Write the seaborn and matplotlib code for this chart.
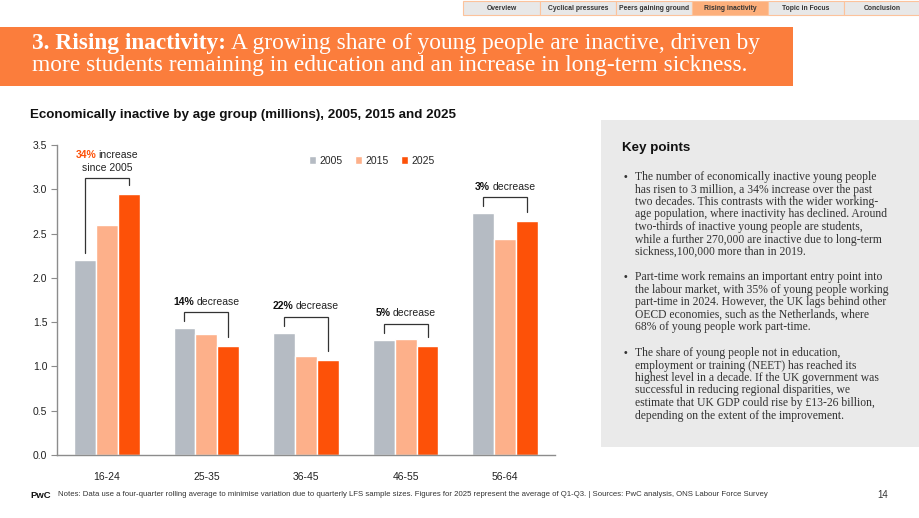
import matplotlib.pyplot as plt
import pandas as pd
import seaborn as sns
from matplotlib.patches import Rectangle


# data (millions)
age_groups = ['16-24', '25-35', '36-45', '46-55', '56-64']
years = ['2005', '2015', '2025']
inactive_2005 = [2.20, 1.43, 1.38, 1.30, 2.73]
inactive_2015 = [2.60, 1.37, 1.12, 1.31, 2.44]
inactive_2025 = [2.95, 1.23, 1.07, 1.23, 2.64]
change_pct = ['34%', '14%', '22%', '5%', '3%']
change_word = ['increase', 'decrease', 'decrease', 'decrease', 'decrease']

tabs = ['Overview', 'Cyclical pressures', 'Peers gaining ground',
        'Rising inactivity', 'Topic in Focus', 'Conclusion']
active_tab = 'Rising inactivity'

title_bold = '3. Rising inactivity:'
title_rest = 'A growing share of young people are inactive, driven by'
title_line2 = 'more students remaining in education and an increase in long-term sickness.'
chart_title = 'Economically inactive by age group (millions), 2005, 2015 and 2025'

key_points = [
    ["The number of economically inactive young people",
     "has risen to 3 million, a 34% increase over the past",
     "two decades. This contrasts with the wider working-",
     "age population, where inactivity has declined. Around",
     "two-thirds of inactive young people are students,",
     "while a further 270,000 are inactive due to long-term",
     "sickness,100,000 more than in 2019."],
    ["Part-time work remains an important entry point into",
     "the labour market, with 35% of young people working",
     "part-time in 2024. However, the UK lags behind other",
     "OECD economies, such as the Netherlands, where",
     "68% of young people work part-time."],
    ["The share of young people not in education,",
     "employment or training (NEET) has reached its",
     "highest level in a decade. If the UK government was",
     "successful in reducing regional disparities, we",
     "estimate that UK GDP could rise by £13-26 billion,",
     "depending on the extent of the improvement."],
]
footnote = ("Notes: Data use a four-quarter rolling average to minimise variation due to quarterly LFS "
            "sample sizes. Figures for 2025 represent the average of Q1-Q3. | Sources: PwC analysis, "
            "ONS Labour Force Survey")

colors = ['#B5BBC3', '#FDB08A', '#FD5108']
header_orange = '#FB7D3C'
SANS = 'Liberation Sans'
SERIF = 'Liberation Serif'

sns.set_theme(style='white')
plt.rcParams['font.family'] = [SANS, 'DejaVu Sans']

W, H = 920, 518
fig = plt.figure(figsize=(W / 100, H / 100), dpi=100)
renderer = fig.canvas.get_renderer()


def px(x, y):
    # pixel position (top-left origin) -> figure fraction
    return x / W, 1 - y / H


def text_width(s, **kw):
    t = fig.text(0, 0, s, **kw)
    w = t.get_window_extent(renderer).width
    t.remove()
    return w


def rich_text(x_px, y_px, parts, center=False, size=8, family=SANS, gap_em=0.27):
    # parts: list of (text, weight, color), drawn one after another
    gap = size * 100 / 72 * gap_em
    widths = [text_width(s, fontsize=size, fontweight=wt, family=family) for s, wt, c in parts]
    total = sum(widths) + gap * (len(parts) - 1)
    x = x_px - total / 2 if center else x_px
    for (s, wt, c), w in zip(parts, widths):
        fig.text(*px(x, y_px), s, fontsize=size, fontweight=wt, color=c,
                 family=family, ha='left', va='center')
        x += w + gap


# top navigation tabs
tab_edges = [463, 540, 616, 692, 768, 844, 920]
for i, name in enumerate(tabs):
    x0, x1 = tab_edges[i], tab_edges[i + 1]
    fc = '#FDAF7B' if name == active_tab else '#E8E8E8'
    fig.patches.append(Rectangle(px(x0, 15), (x1 - x0) / W, 14 / H, transform=fig.transFigure,
                                 facecolor=fc, edgecolor='#FCC39C', linewidth=0.8))
    fig.text(*px((x0 + x1) / 2, 8), name, fontsize=4.9, fontweight='bold',
             color='#333333', ha='center', va='center')

# orange header band
fig.patches.append(Rectangle(px(0, 86), 793 / W, 59 / H, transform=fig.transFigure,
                             facecolor=header_orange, edgecolor='none'))
rich_text(32, 44, [(title_bold, 'bold', 'white'), (title_rest, 'normal', 'white')],
          size=16.8, family=SERIF, gap_em=0.22)
fig.text(*px(32, 66), title_line2, fontsize=16.8, color='white', family=SERIF,
         ha='left', va='center')

fig.text(*px(30, 115), chart_title, fontsize=9.6, fontweight='bold',
         color='#111111', ha='left', va='center')

# key points panel
fig.patches.append(Rectangle(px(601, 447), 319 / W, 327 / H, transform=fig.transFigure,
                             facecolor='#EAEAEA', edgecolor='none'))
fig.text(*px(622, 148), 'Key points', fontsize=9.6, fontweight='bold',
         color='#111111', ha='left', va='center')
para_y = [177, 277, 353]
line_step = 12.5
for y, para in zip(para_y, key_points):
    fig.text(*px(625, y), '•', fontsize=7.5, color='#333333', ha='center', va='center')
    for k, line in enumerate(para):
        fig.text(*px(635, y + k * line_step), line, fontsize=8.4, family=SERIF,
                 color='#333333', ha='left', va='center')

# footer
fig.text(*px(30, 495), 'PwC', fontsize=6.8, fontweight='bold', color='#111111',
         ha='left', va='center')
fig.text(*px(58, 495), footnote, fontsize=5.55, color='#333333', ha='left', va='center')
fig.text(*px(888, 495), '14', fontsize=7, color='#333333', ha='right', va='center')

# bar chart
df = pd.DataFrame({
    'age': age_groups * 3,
    'year': [y for y in years for _ in age_groups],
    'value': inactive_2005 + inactive_2015 + inactive_2025,
})

ax = fig.add_axes([57 / W, 1 - 455 / H, 498 / W, 310 / H])
sns.barplot(data=df, x='age', y='value', hue='year', palette=colors, width=0.66,
            edgecolor='white', linewidth=1.0, saturation=1, ax=ax)
ax.set_xlim(-0.5, 4.5)
ax.set_ylim(0, 3.5)
ax.set_yticks([0, 0.5, 1.0, 1.5, 2.0, 2.5, 3.0, 3.5])
ax.set_yticklabels([f'{v:.1f}' for v in ax.get_yticks()])
ax.set_xlabel('')
ax.set_ylabel('')
ax.set_facecolor('none')
for side in ['top', 'right']:
    ax.spines[side].set_visible(False)
for side in ['left', 'bottom']:
    ax.spines[side].set_color('#8C8C8C')
    ax.spines[side].set_linewidth(1.0)
ax.tick_params(axis='y', left=True, length=4, width=0.8, color='#8C8C8C',
               labelsize=7.5, labelcolor='#222222', pad=3)
ax.tick_params(axis='x', bottom=False, labelsize=7.5, labelcolor='#222222', pad=6)

handles, labels = ax.get_legend_handles_labels()
ax.legend(handles, labels, loc='center', bbox_to_anchor=(0.632, 0.95), ncol=3,
          frameon=False, fontsize=7.5, handlelength=0.7, handleheight=0.7,
          handletextpad=0.35, columnspacing=1.15)

# brackets with change annotations
first_bars = ax.containers[0]
last_bars = ax.containers[2]
for i in range(len(age_groups)):
    b1, b3 = first_bars[i], last_bars[i]
    x1 = b1.get_x() + b1.get_width() / 2
    x3 = b3.get_x() + b3.get_width() / 2
    h1, h3 = b1.get_height(), b3.get_height()
    top = max(h1, h3) + 0.18
    ax.plot([x1, x1, x3, x3], [h1 + 0.08, top, top, h3 + 0.1],
            color='#333333', linewidth=0.9, solid_joinstyle='miter')
    xc = (x1 + x3) / 2
    if change_word[i] == 'increase':
        parts = [(change_pct[i], 'bold', colors[2]), (change_word[i], 'normal', '#222222')]
        x_pix, y_pix = ax.transData.transform((xc, top + 0.26))
        rich_text(x_pix, H - y_pix, parts, center=True, size=7.5, gap_em=0.22)
        x_pix, y_pix = ax.transData.transform((xc, top + 0.11))
        fig.text(x_pix / W, y_pix / H, 'since 2005', fontsize=7.5, color='#222222',
                 ha='center', va='center')
    else:
        parts = [(change_pct[i], 'bold', '#111111'), (change_word[i], 'normal', '#222222')]
        x_pix, y_pix = ax.transData.transform((xc, top + 0.12))
        rich_text(x_pix, H - y_pix, parts, center=True, size=7.5, gap_em=0.22)

fig.savefig('out.png', dpi=100)
